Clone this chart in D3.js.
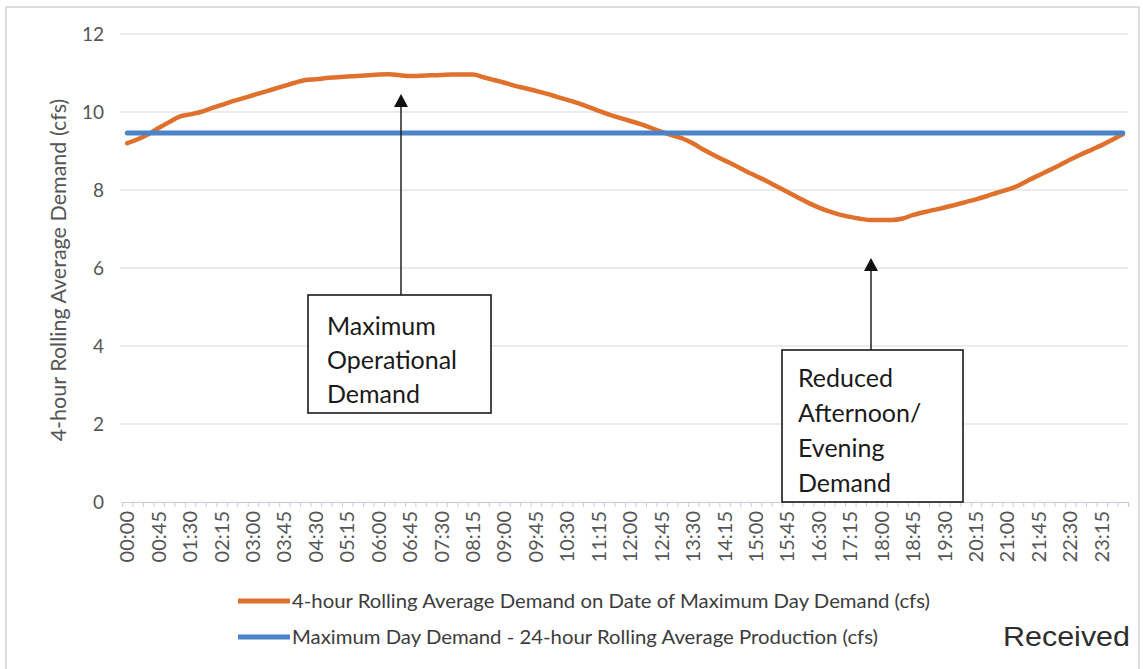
<!DOCTYPE html>
<html>
<head>
<meta charset="utf-8">
<script src="https://cdn.jsdelivr.net/npm/d3@7"></script>
<style>
body{margin:0;background:#fff;}
svg{display:block;}
</style>
</head>
<body>
<svg></svg>
<script>
// 15 minute steps over the day
var categories = [
	"00:00","00:15","00:30","00:45","01:00","01:15","01:30","01:45","02:00","02:15","02:30","02:45",
	"03:00","03:15","03:30","03:45","04:00","04:15","04:30","04:45","05:00","05:15","05:30","05:45",
	"06:00","06:15","06:30","06:45","07:00","07:15","07:30","07:45","08:00","08:15","08:30","08:45",
	"09:00","09:15","09:30","09:45","10:00","10:15","10:30","10:45","11:00","11:15","11:30","11:45",
	"12:00","12:15","12:30","12:45","13:00","13:15","13:30","13:45","14:00","14:15","14:30","14:45",
	"15:00","15:15","15:30","15:45","16:00","16:15","16:30","16:45","17:00","17:15","17:30","17:45",
	"18:00","18:15","18:30","18:45","19:00","19:15","19:30","19:45","20:00","20:15","20:30","20:45",
	"21:00","21:15","21:30","21:45","22:00","22:15","22:30","22:45","23:00","23:15","23:30","23:45"
];

var tickLabels = [
	"00:00","00:45","01:30","02:15","03:00","03:45","04:30","05:15","06:00","06:45","07:30","08:15",
	"09:00","09:45","10:30","11:15","12:00","12:45","13:30","14:15","15:00","15:45","16:30","17:15",
	"18:00","18:45","19:30","20:15","21:00","21:45","22:30","23:15"
];

// 4-hour rolling average demand (cfs)
var demand = [
	9.20,9.30,9.43,9.59,9.74,9.88,9.94,10.00,10.09,10.18,10.27,10.35,
	10.43,10.51,10.59,10.67,10.75,10.82,10.84,10.87,10.89,10.91,10.92,10.94,
	10.96,10.97,10.94,10.92,10.93,10.94,10.95,10.96,10.96,10.96,10.89,10.82,
	10.75,10.67,10.61,10.54,10.47,10.39,10.31,10.23,10.13,10.03,9.93,9.85,
	9.77,9.69,9.59,9.49,9.40,9.32,9.19,9.03,8.89,8.76,8.63,8.49,
	8.36,8.23,8.09,7.95,7.81,7.67,7.55,7.45,7.37,7.31,7.26,7.23,
	7.23,7.23,7.27,7.36,7.43,7.49,7.55,7.62,7.69,7.76,7.84,7.93,
	8.01,8.11,8.25,8.38,8.51,8.64,8.78,8.91,9.03,9.15,9.29,9.43
];

// max day demand, 24-hour rolling average production (cfs)
var production = 9.46;

var yTicks = [0,2,4,6,8,10,12];

var legendItems = [
	{label:"4-hour Rolling Average Demand on Date of Maximum Day Demand (cfs)", color:"#e0712c"},
	{label:"Maximum Day Demand - 24-hour Rolling Average Production (cfs)", color:"#4a84c8"}
];

var svgwidth = 1143;
var svgheight = 669;

var margins = {top:34, bottom:167, left:122, right:15};

var svg = d3.select('svg').attr('width',svgwidth).attr('height',svgheight);

// scanned frame
svg.append('rect')
	.attr('x',6).attr('y',7)
	.attr('width',1133).attr('height',680)
	.attr('fill','none')
	.attr('stroke','#d2d2d6')
	.attr('stroke-width',1.5);

var x = d3.scaleBand().domain(categories).range([margins.left, svgwidth - margins.right]);
var xc = function(d){ return x(d) + x.bandwidth()/2; };
var xIdx = d3.scaleLinear().domain([0,categories.length]).range([margins.left, svgwidth - margins.right]);
var y = d3.scaleLinear().domain([0,12]).range([svgheight - margins.bottom, margins.top]);

// gridlines
svg.append('g').selectAll('line').data(yTicks.filter(function(d){ return d > 0; })).enter().append('line')
	.attr('x1',margins.left - 2)
	.attr('x2',svgwidth - margins.right)
	.attr('y1',function(d){ return y(d); })
	.attr('y2',function(d){ return y(d); })
	.attr('stroke','#d5d8e4')
	.attr('stroke-width',1.2);

// y axis labels
var yAxis = svg.append('g').attr('transform','translate('+(margins.left-2)+',0)')
	.call(d3.axisLeft(y).tickValues(yTicks).tickSize(0).tickPadding(16));
yAxis.select('.domain').remove();
yAxis.selectAll('text')
	.attr('font-family','Lato, "Open Sans", sans-serif')
	.attr('font-size',19)
	.attr('fill','#555');

// x axis with small tick marks between categories
var xAxis = svg.append('g').attr('transform','translate(0,'+y(0)+')')
	.call(d3.axisBottom(xIdx).tickValues(d3.range(categories.length+1)).tickSize(5).tickFormat(''));
xAxis.select('.domain').attr('stroke','#c9ccd8').attr('stroke-width',1.2);
xAxis.selectAll('.tick line').attr('stroke','#c9ccd8');

svg.append('g').selectAll('text').data(tickLabels).enter().append('text')
	.attr('transform',function(d){ return 'translate('+xc(d)+','+(y(0)+9)+') rotate(-90)'; })
	.attr('text-anchor','end')
	.attr('dy','0.35em')
	.attr('font-family','Lato, "Open Sans", sans-serif')
	.attr('font-size',20)
	.attr('fill','#555')
	.text(function(d){ return d; });

// y axis title
svg.append('text')
	.attr('transform','translate(58,'+((y(0)+y(12))/2+2)+') rotate(-90)')
	.attr('text-anchor','middle')
	.attr('dy','0.35em')
	.attr('font-family','Lato, "Open Sans", sans-serif')
	.attr('font-size',21.5)
	.attr('fill','#555')
	.text('4-hour Rolling Average Demand (cfs)');

// series
var line = d3.line()
	.x(function(d,i){ return xc(categories[i]); })
	.y(function(d){ return y(d); })
	.curve(d3.curveMonotoneX);

svg.append('path')
	.datum(demand)
	.attr('d',line)
	.attr('fill','none')
	.attr('stroke',legendItems[0].color)
	.attr('stroke-width',4.5)
	.attr('stroke-linejoin','round')
	.attr('stroke-linecap','round');

var ends = [categories[0], categories[categories.length-1]];
svg.append('line')
	.attr('x1',xc(ends[0])).attr('x2',xc(ends[1]))
	.attr('y1',y(production)).attr('y2',y(production))
	.attr('stroke',legendItems[1].color)
	.attr('stroke-width',5)
	.attr('stroke-linecap','round');

// annotations
var annotations = [
	{lines:["Maximum","Operational","Demand"], box:[308,295,183,118], textX:327, firstBase:335, step:34, arrowX:401, tipY:94},
	{lines:["Reduced","Afternoon/","Evening","Demand"], box:[782,350,181,152], textX:798, firstBase:387, step:35, arrowX:871, tipY:258}
];

annotations.forEach(function(a){
	var g = svg.append('g');
	g.append('line')
		.attr('x1',a.arrowX).attr('x2',a.arrowX)
		.attr('y1',a.box[1]).attr('y2',a.tipY+10)
		.attr('stroke','#222').attr('stroke-width',1.5);
	g.append('path')
		.attr('d','M'+a.arrowX+','+a.tipY+'L'+(a.arrowX-7)+','+(a.tipY+13)+'L'+(a.arrowX+7)+','+(a.tipY+13)+'Z')
		.attr('fill','#111');
	g.append('rect')
		.attr('x',a.box[0]).attr('y',a.box[1])
		.attr('width',a.box[2]).attr('height',a.box[3])
		.attr('fill','#fff')
		.attr('stroke','#1a1a1a')
		.attr('stroke-width',1.6);
	g.selectAll('text').data(a.lines).enter().append('text')
		.attr('x',a.textX)
		.attr('y',function(d,i){ return a.firstBase + i*a.step; })
		.attr('font-family','Lato, "Open Sans", sans-serif')
		.attr('font-size',25)
		.attr('fill','#1a1a1a')
		.text(function(d){ return d; });
});

// legend
var legendW = [638, 586];
var legend = svg.append('g').selectAll('g').data(legendItems).enter().append('g')
	.attr('transform',function(d,i){ return 'translate(238,'+(601+i*36)+')'; });
legend.append('line')
	.attr('x1',0).attr('x2',52)
	.attr('stroke',function(d){ return d.color; })
	.attr('stroke-width',5);
legend.append('text')
	.attr('x',54)
	.attr('dy','0.35em')
	.attr('font-family','Lato, "Open Sans", sans-serif')
	.attr('font-size',19)
	.attr('fill','#3c3c3c')
	.attr('textLength',function(d,i){ return legendW[i]; })
	.attr('lengthAdjust','spacingAndGlyphs')
	.text(function(d){ return d.label; });

svg.append('text')
	.attr('x',1003).attr('y',646)
	.attr('font-family','"Liberation Sans", Arial, sans-serif')
	.attr('font-size',28)
	.attr('fill','#2e2e2e')
	.attr('textLength',127)
	.attr('lengthAdjust','spacingAndGlyphs')
	.text('Received');
</script>
</body>
</html>
